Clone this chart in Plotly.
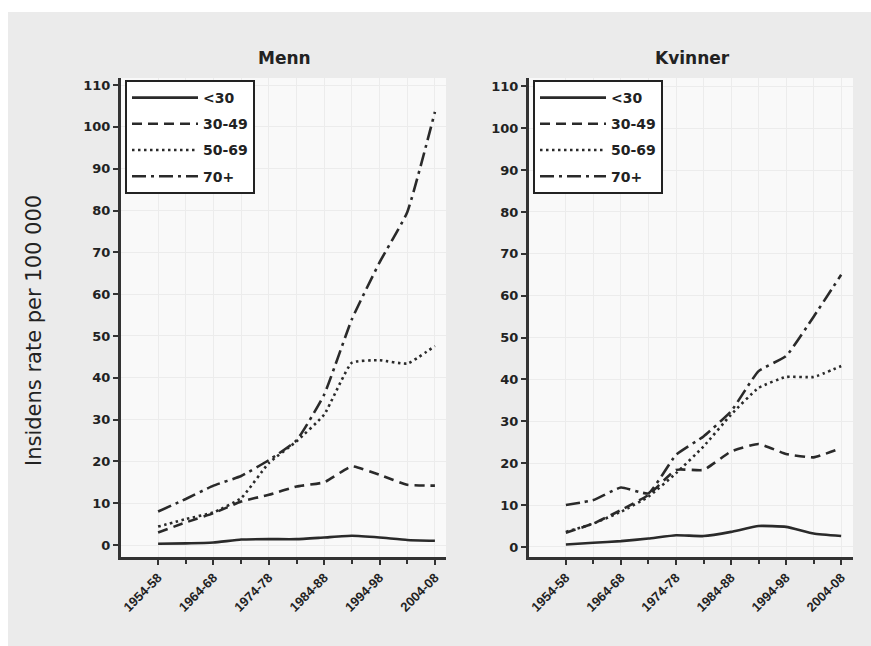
import plotly.graph_objects as go

periods = ["1954-58", "1959-63", "1964-68", "1969-73", "1974-78", "1979-83",
           "1984-88", "1989-93", "1994-98", "1999-03", "2004-08"]
age_groups = ["<30", "30-49", "50-69", "70+"]

menn_u30 = [0.3, 0.4, 0.6, 1.3, 1.4, 1.4, 1.8, 2.2, 1.8, 1.2, 1.0]
menn_30_49 = [3.0, 5.4, 7.6, 10.4, 12.0, 14.0, 15.0, 18.8, 16.8, 14.4, 14.2]
menn_50_69 = [4.4, 6.2, 7.8, 11.2, 19.6, 24.8, 31.2, 43.6, 44.2, 43.4, 47.6]
menn_70 = [8.0, 11.0, 14.2, 16.5, 20.3, 25.0, 36.0, 54.0, 67.6, 79.6, 103.6]

kv_u30 = [0.6, 1.0, 1.4, 2.0, 2.8, 2.6, 3.6, 5.0, 4.8, 3.2, 2.6]
kv_30_49 = [3.4, 5.6, 8.8, 12.4, 18.4, 18.4, 22.8, 24.6, 22.2, 21.4, 23.6]
kv_50_69 = [3.6, 5.6, 8.4, 12.0, 17.6, 24.0, 31.6, 38.0, 40.6, 40.6, 43.2]
kv_70 = [10.0, 11.2, 14.2, 12.8, 22.0, 26.4, 32.4, 42.0, 45.6, 55.0, 65.0]

y_ticks = list(range(0, 111, 10))

dashes = ["solid", "10px,6px", "2.5px,3.5px", "14px,5px,3px,5px"]
INK = "#2a2a2a"
FONT = "Liberation Sans, Arial, sans-serif"
WIDE = "DejaVu Sans, Verdana, sans-serif"

xs = list(range(len(periods)))
fig = go.Figure()

panels = [
    ([menn_u30, menn_30_49, menn_50_69, menn_70], "x", "y", "legend"),
    ([kv_u30, kv_30_49, kv_50_69, kv_70], "x2", "y2", "legend2"),
]
for series, xa, ya, lg in panels:
    for i, (name, vals) in enumerate(zip(age_groups, series)):
        fig.add_trace(go.Scatter(
            x=xs, y=vals, name=name, mode="lines",
            line=dict(color=INK, width=2.6, dash=dashes[i], shape="spline", smoothing=0.4),
            xaxis=xa, yaxis=ya, legend=lg, legendgroup=f"{lg}-{name}",
            hoverinfo="skip",
        ))

W, H = 871, 646
def px(x):
    return x / W
def py(y):
    return 1 - y / H

axis_common = dict(
    showline=True, linecolor="#333333", linewidth=3,
    ticks="outside", ticklen=5, tickwidth=2, tickcolor="#333333",
    showgrid=True, gridcolor="#ececec", gridwidth=1, zeroline=False,
)

xaxis_common = dict(
    axis_common,
    tickmode="array", tickvals=xs[::2], ticktext=periods[::2], tickangle=-45,
    tickfont=dict(family=FONT, size=13, color="#222222", weight="bold"),
    minor=dict(tickmode="array", tickvals=xs[1::2], ticks="outside", ticklen=4,
               tickwidth=2, tickcolor="#333333", showgrid=True, gridcolor="#ececec"),
)
yaxis_common = dict(
    axis_common,
    tickmode="array", tickvals=y_ticks,
    tickfont=dict(family=WIDE, size=13, color="#222222", weight="bold"),
)

legend_common = dict(
    xanchor="left", yanchor="top",
    bgcolor="white", bordercolor="#222222", borderwidth=2,
    font=dict(family=WIDE, size=14, color="#222222", weight="bold"),
    itemwidth=66, tracegroupgap=5, traceorder="grouped",
)

fig.update_layout(
    width=W, height=H,
    margin=dict(l=0, r=0, t=0, b=0),
    paper_bgcolor="#ebebeb",
    plot_bgcolor="#f9f9f9",
    xaxis=dict(xaxis_common, domain=[px(121), px(446)], range=[-1.34, 10.4], anchor="y"),
    yaxis=dict(yaxis_common, domain=[py(557), py(78)], range=[-2.87, 111.7], anchor="x"),
    xaxis2=dict(xaxis_common, domain=[px(529), px(853)], range=[-1.34, 10.43], anchor="y2"),
    yaxis2=dict(yaxis_common, domain=[py(557), py(78)], range=[-2.4, 112.0], anchor="x2"),
    legend=dict(legend_common, x=px(125), y=py(80)),
    legend2=dict(legend_common, x=px(533), y=py(80)),
    shapes=[
        dict(type="rect", xref="paper", yref="paper", x0=0, x1=1, y0=py(12), y1=1,
             fillcolor="white", line=dict(width=0), layer="below"),
        dict(type="rect", xref="paper", yref="paper", x0=0, x1=px(8), y0=0, y1=1,
             fillcolor="white", line=dict(width=0), layer="below"),
    ],
    annotations=[
        dict(text="Menn", x=px(284), y=py(58), xref="paper", yref="paper",
             xanchor="center", yanchor="middle",
             showarrow=False, font=dict(family=WIDE, size=17, color="#222222", weight="bold")),
        dict(text="Kvinner", x=px(692), y=py(58), xref="paper", yref="paper",
             xanchor="center", yanchor="middle",
             showarrow=False, font=dict(family=WIDE, size=17, color="#222222", weight="bold")),
        dict(text="Insidens rate per 100 000", x=px(34), y=py(331), xref="paper", yref="paper",
             xanchor="center", yanchor="middle",
             showarrow=False, textangle=-90,
             font=dict(family=WIDE, size=21, color="#222222")),
    ],
)

fig.write_html("out.html", config={"displayModeBar": False},
               post_script="document.body.style.margin='0';")
